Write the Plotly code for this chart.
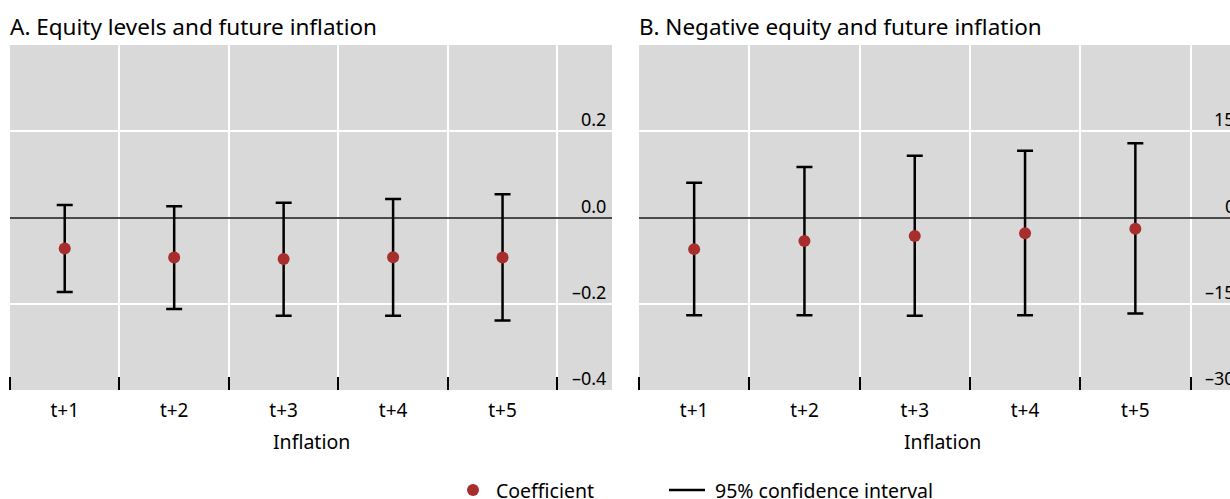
import plotly.graph_objects as go

categories = ["t+1", "t+2", "t+3", "t+4", "t+5"]

# Panel A: Equity levels and future inflation
a_coef = [-0.072, -0.093, -0.096, -0.092, -0.093]
a_upper = [0.029, 0.026, 0.034, 0.043, 0.054]
a_lower = [-0.173, -0.212, -0.228, -0.228, -0.239]

# Panel B: Negative equity and future inflation
b_coef = [-5.5, -4.1, -3.2, -2.75, -1.95]
b_upper = [6.05, 8.8, 10.75, 11.6, 12.9]
b_lower = [-17.0, -17.0, -17.1, -17.0, -16.7]

a_ticks = [0.2, 0.0, -0.2, -0.4]
a_ticklabels = ["0.2", "0.0", "–0.2", "–0.4"]
b_ticks = [15, 0, -15, -30]
b_ticklabels = ["15", "0", "–15", "–30"]

legend_labels = ["Coefficient", "95% confidence interval"]

FONT = "Noto Sans"
RED = "#A82E2E"
W, H = 1230, 499

xpos = list(range(len(categories)))

fig = go.Figure()

def add_panel(coef, upper, lower, xa, ya):
    fig.add_trace(go.Scatter(
        x=xpos, y=coef, mode="markers", name=legend_labels[0],
        marker=dict(color=RED, size=12),
        error_y=dict(type="data", symmetric=False,
                     array=[u - c for u, c in zip(upper, coef)],
                     arrayminus=[c - l for c, l in zip(coef, lower)],
                     color="black", thickness=2.5, width=8),
        xaxis=xa, yaxis=ya, showlegend=False,
    ))

add_panel(a_coef, a_upper, a_lower, "x", "y")
add_panel(b_coef, b_upper, b_lower, "x2", "y2")

ydom = [1 - 390 / H, 1 - 45 / H]
a_left, a_right = 10, 612
b_left = 639
b_step = 110.3
b_xmax = -0.5 + (W - b_left) / b_step

def xaxis_cfg(dom, rng):
    return dict(domain=dom, range=rng, tickmode="array", tickvals=xpos, ticktext=categories,
                ticks="", showgrid=False, zeroline=False, showline=False,
                tickfont=dict(family=FONT, size=19, color="black"), ticklabelstandoff=7,
                minor=dict(tickmode="linear", tick0=-0.5, dtick=1, ticks="inside", ticklen=13,
                           tickcolor="black", tickwidth=1.5, showgrid=True,
                           gridcolor="white", gridwidth=1.5),
                fixedrange=True)

def yaxis_cfg(anchor, rng, ticks):
    return dict(domain=ydom, range=rng, anchor=anchor, tickmode="array", tickvals=ticks,
                showticklabels=False, ticks="", showgrid=True, gridcolor="white", gridwidth=1.5,
                zeroline=True, zerolinecolor="#4a4a4a", zerolinewidth=1.5, fixedrange=True)

fig.update_layout(
    width=W, height=H, margin=dict(l=0, r=0, t=0, b=0),
    paper_bgcolor="white", plot_bgcolor="#d9d9d9",
    font=dict(family=FONT, size=18, color="black"),
    xaxis=xaxis_cfg([a_left / W, a_right / W], [-0.5, 5.0]),
    yaxis=yaxis_cfg("x", [-0.4, 0.4], a_ticks),
    xaxis2=xaxis_cfg([b_left / W, 1.0], [-0.5, b_xmax]),
    yaxis2=yaxis_cfg("x2", [-30, 30], b_ticks),
    showlegend=False,
)

ann = []
for v, t in zip(a_ticks, a_ticklabels):
    ann.append(dict(x=608 / W, xref="paper", y=v, yref="y", text=t, showarrow=False,
                    xanchor="right", yanchor="bottom", yshift=-2, font=dict(size=18)))
b_label_right = 1237
for v, t in zip(b_ticks, b_ticklabels):
    ann.append(dict(x=b_label_right / W, xref="paper", y=v, yref="y2", text=t, showarrow=False,
                    xanchor="right", yanchor="bottom", yshift=-2, font=dict(size=18)))
ann.append(dict(x=a_left / W, xref="paper", y=1 - 26 / H, yref="paper", text="A. Equity levels and future inflation",
                showarrow=False, xanchor="left", yanchor="middle", xshift=-2, font=dict(size=22.5)))
ann.append(dict(x=b_left / W, xref="paper", y=1 - 26 / H, yref="paper", text="B. Negative equity and future inflation",
                showarrow=False, xanchor="left", yanchor="middle", xshift=-2, font=dict(size=22.5)))
ann.append(dict(x=(a_left + a_right) / 2 / W, xref="paper", y=1 - 441 / H, yref="paper", text="Inflation",
                showarrow=False, xanchor="center", yanchor="middle", font=dict(size=19.5)))
ann.append(dict(x=(b_left + 2.75 * b_step) / W, xref="paper", y=1 - 441 / H, yref="paper", text="Inflation",
                showarrow=False, xanchor="center", yanchor="middle", font=dict(size=19.5)))

# Legend (drawn manually so it can sit at the very bottom edge)
leg_y = 1 - 490 / H
ann.append(dict(x=494 / W, xref="paper", y=leg_y, yref="paper", text=legend_labels[0],
                showarrow=False, xanchor="left", yanchor="middle", font=dict(size=19.5)))
ann.append(dict(x=713 / W, xref="paper", y=leg_y, yref="paper", text=legend_labels[1],
                showarrow=False, xanchor="left", yanchor="middle", font=dict(size=19.5)))
fig.update_layout(annotations=ann)

fig.add_shape(type="circle", xref="paper", yref="paper",
              x0=(473 - 6) / W, x1=(473 + 6) / W, y0=1 - 496 / H, y1=1 - 484 / H,
              fillcolor=RED, line=dict(width=0))
fig.add_shape(type="line", xref="paper", yref="paper",
              x0=669 / W, x1=705 / W, y0=1 - 490 / H, y1=1 - 490 / H,
              line=dict(color="black", width=2.5))

fig.write_html("out.html", config={"displayModeBar": False},
               post_script="document.body.style.margin='0';document.body.style.overflow='hidden';")
